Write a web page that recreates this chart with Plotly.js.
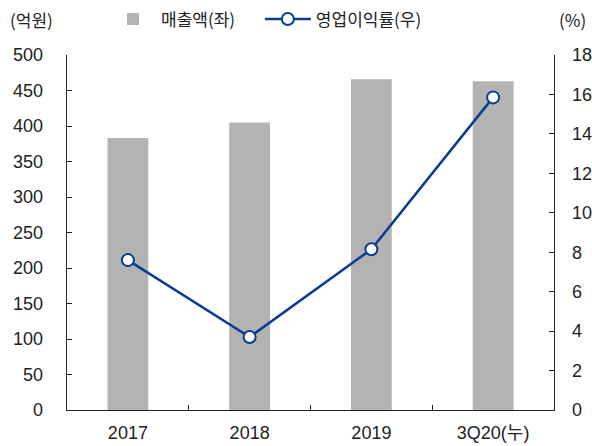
<!DOCTYPE html>
<html>
<head>
<meta charset="utf-8">
<script src="https://cdn.plot.ly/plotly-3.0.1.min.js"></script>
<style>html,body{margin:0;padding:0;background:#fff;}#chart{width:592px;height:446px;}</style>
</head>
<body>
<div id="chart"></div>
<script>
const categories = ['2017', '2018', '2019', '3Q20(누)'];
const sales = [383, 405, 466, 463];          // 매출액 (억원)
const opMargin = [7.6, 3.7, 8.15, 15.85];    // 영업이익률 (%)
const leftTicks = [0, 50, 100, 150, 200, 250, 300, 350, 400, 450, 500];
const rightTicks = [0, 2, 4, 6, 8, 10, 12, 14, 16, 18];
const salesName = '매출액(좌)';
const marginName = '영업이익률(우)';
const leftUnit = '(억원)';
const rightUnit = '(%)';

const FONT = 'Liberation Sans, Arial, "Noto Sans CJK KR", sans-serif';
const KFONT = '"Noto Sans CJK KR", "Liberation Sans", sans-serif';

const traces = [
  {
    type: 'bar', x: categories, y: sales, name: salesName,
    marker: {color: '#b3b3b3'}, width: 0.335, yaxis: 'y', legend: 'legend'
  },
  {
    type: 'scatter', mode: 'lines+markers', x: categories, y: opMargin, name: marginName,
    line: {color: '#0b3c8f', width: 2.5},
    marker: {symbol: 'circle', size: 12, color: '#ffffff', line: {color: '#0b3c8f', width: 2}},
    yaxis: 'y2', legend: 'legend2'
  }
];

const legendBase = {
  orientation: 'h', xanchor: 'left', y: 1.1, yanchor: 'middle',
  font: {family: KFONT, size: 17, color: '#222'},
  itemwidth: 46, bgcolor: 'rgba(0,0,0,0)'
};

const layout = {
  width: 592, height: 446,
  margin: {l: 67, r: 38, t: 55, b: 36, autoexpand: false},
  paper_bgcolor: '#fff', plot_bgcolor: '#fff',
  font: {family: FONT, size: 18, color: '#222'},
  showlegend: true,
  legend: Object.assign({}, legendBase, {x: 0.078}),
  legend2: Object.assign({}, legendBase, {x: 0.396}),
  xaxis: {
    type: 'category', range: [-0.5, 3.5],
    showline: true, linecolor: '#222', linewidth: 1.3,
    ticks: 'inside', ticklen: 5, tickcolor: '#222', tickson: 'boundaries',
    showgrid: false, zeroline: false,
    tickfont: {family: FONT, size: 18, color: '#222'},
    ticklabelstandoff: 6
  },
  yaxis: {
    range: [0, 500], tickvals: leftTicks, ticktext: leftTicks.map(String),
    showline: true, linecolor: '#222', linewidth: 1.3,
    ticks: 'inside', ticklen: 5, tickcolor: '#222',
    showgrid: false, zeroline: false,
    tickfont: {family: FONT, size: 18, color: '#222'},
    ticklabelstandoff: 19
  },
  yaxis2: {
    range: [0, 18], tickvals: rightTicks, ticktext: rightTicks.map(String),
    overlaying: 'y', side: 'right',
    showline: true, linecolor: '#222', linewidth: 1.3,
    ticks: 'inside', ticklen: 5, tickcolor: '#222',
    showgrid: false, zeroline: false,
    tickfont: {family: FONT, size: 18, color: '#222'},
    ticklabelstandoff: 13
  },
  annotations: [
    {text: leftUnit, xref: 'paper', yref: 'paper', x: -0.072, y: 1.1, xanchor: 'center', yanchor: 'middle',
     showarrow: false, font: {family: KFONT, size: 17, color: '#222'}},
    {text: rightUnit, xref: 'paper', yref: 'paper', x: 1.006, y: 1.1, xanchor: 'left', yanchor: 'middle',
     showarrow: false, font: {family: KFONT, size: 17, color: '#222'}}
  ]
};

Plotly.newPlot('chart', traces, layout, {displayModeBar: false, staticPlot: true});
</script>
</body>
</html>
